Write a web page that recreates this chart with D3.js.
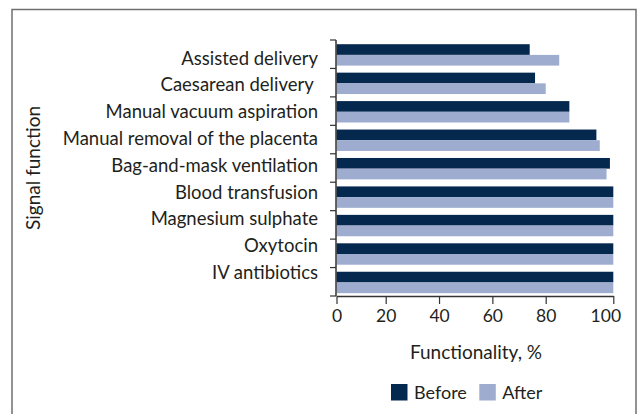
<!DOCTYPE html>
<html>
<head>
<meta charset="utf-8">
<script src="https://cdn.jsdelivr.net/npm/d3@7"></script>
<style>
  body { margin: 0; background: #fff; }
  svg text { font-family: Lato, "Open Sans", sans-serif; fill: #231f20; }
</style>
</head>
<body>
<svg id="chart" width="637" height="414"></svg>
<script>
// data
const categories = ["Assisted delivery", "Caesarean delivery ", "Manual vacuum aspiration",
  "Manual removal of the placenta", "Bag-and-mask ventilation", "Blood transfusion",
  "Magnesium sulphate", "Oxytocin", "IV antibiotics"];
const series = ["Before", "After"];
const before = [74, 76, 87, 95, 99, 100, 100, 100, 100];
const after = [84, 80, 87, 96, 98, 100, 100, 100, 100];
const xTicks = [0, 20, 40, 60, 80, 100];

const svg = d3.select("#chart");
const color = d3.scaleOrdinal().domain(series).range(["#05284e", "#9eaccf"]);

// outer frame
svg.append("rect")
  .attr("x", 12).attr("y", 9.5)
  .attr("width", 624).attr("height", 420)
  .attr("fill", "none").attr("stroke", "#6f6f6f").attr("stroke-width", 1.5);

// the original axis is not evenly spaced, so a piecewise scale reproduces it
const x = d3.scaleLinear()
  .domain([0, 20, 80, 100])
  .range([336.5, 385.7, 545.7, 613.3]);

const y = d3.scaleBand()
  .domain(categories)
  .range([40, 296])
  .padding(0);

const ySub = d3.scaleBand()
  .domain(series)
  .range([4.2, 25.6]);

// category labels sit on their own (slightly tighter) spacing in the original
const yLabel = d3.scalePoint()
  .domain(categories)
  .range([64, 278.5]);

const rows = categories.map((c, i) => ({ name: c, Before: before[i], After: after[i] }));

// bars
const groups = svg.append("g").selectAll("g")
  .data(rows)
  .join("g")
  .attr("transform", d => `translate(0,${y(d.name)})`);

groups.selectAll("rect")
  .data(d => series.map(s => ({ key: s, value: d[s] })))
  .join("rect")
  .attr("x", x(0))
  .attr("y", d => ySub(d.key))
  .attr("width", d => x(d.value) - x(0))
  .attr("height", ySub.bandwidth())
  .attr("fill", d => color(d.key));

// category labels
const labels = svg.append("g")
  .attr("transform", `translate(${x(0) - 0.5},0)`)
  .call(d3.axisLeft(yLabel).tickSize(0).tickPadding(18));
labels.select(".domain").remove();
labels.selectAll("text")
  .attr("dy", 0)
  .attr("font-size", 18.5)
  .attr("font-family", null)
  .style("white-space", "pre");

// y axis line with ticks at the band boundaries
const yAxis = svg.append("g")
  .attr("transform", `translate(${x(0) - 0.5},0)`);
yAxis.append("line")
  .attr("y1", y.range()[0]).attr("y2", y.range()[1])
  .attr("stroke", "#333").attr("stroke-width", 1.5);
yAxis.selectAll(".bound")
  .data(categories.map(c => y(c)).concat([y.range()[1]]))
  .join("line")
  .attr("class", "bound")
  .attr("x1", -6).attr("x2", 0)
  .attr("y1", d => d).attr("y2", d => d)
  .attr("stroke", "#333").attr("stroke-width", 1.2);

// x axis
const xAxis = svg.append("g")
  .attr("transform", `translate(0,${y.range()[1]})`)
  .call(d3.axisBottom(x).tickValues(xTicks).tickSize(8).tickSizeOuter(0).tickPadding(6));
xAxis.select(".domain").attr("stroke", "#333").attr("stroke-width", 1.5);
xAxis.selectAll(".tick line").attr("stroke", "#333").attr("stroke-width", 1.2);
xAxis.selectAll("text")
  .attr("font-size", 17.5)
  .attr("font-family", null)
  .attr("dx", d => d === 100 ? -8 : 0); // "100" sits left of its tick in the original

// axis titles
svg.append("text")
  .attr("x", 476).attr("y", 359)
  .attr("text-anchor", "middle")
  .attr("font-size", 19)
  .text("Functionality, %");

svg.append("text")
  .attr("transform", "translate(40,168) rotate(-90)")
  .attr("text-anchor", "middle")
  .attr("font-size", 19)
  .text("Signal function");

// legend
const legend = svg.append("g").attr("transform", "translate(391,384)");
const legendX = [0, 88.3];
series.forEach((s, i) => {
  const item = legend.append("g").attr("transform", `translate(${legendX[i]},0)`);
  item.append("rect")
    .attr("width", 16.5).attr("height", 16.5)
    .attr("fill", color(s));
  item.append("text")
    .attr("x", 23).attr("y", 15)
    .attr("font-size", 18)
    .text(s);
});
</script>
</body>
</html>
